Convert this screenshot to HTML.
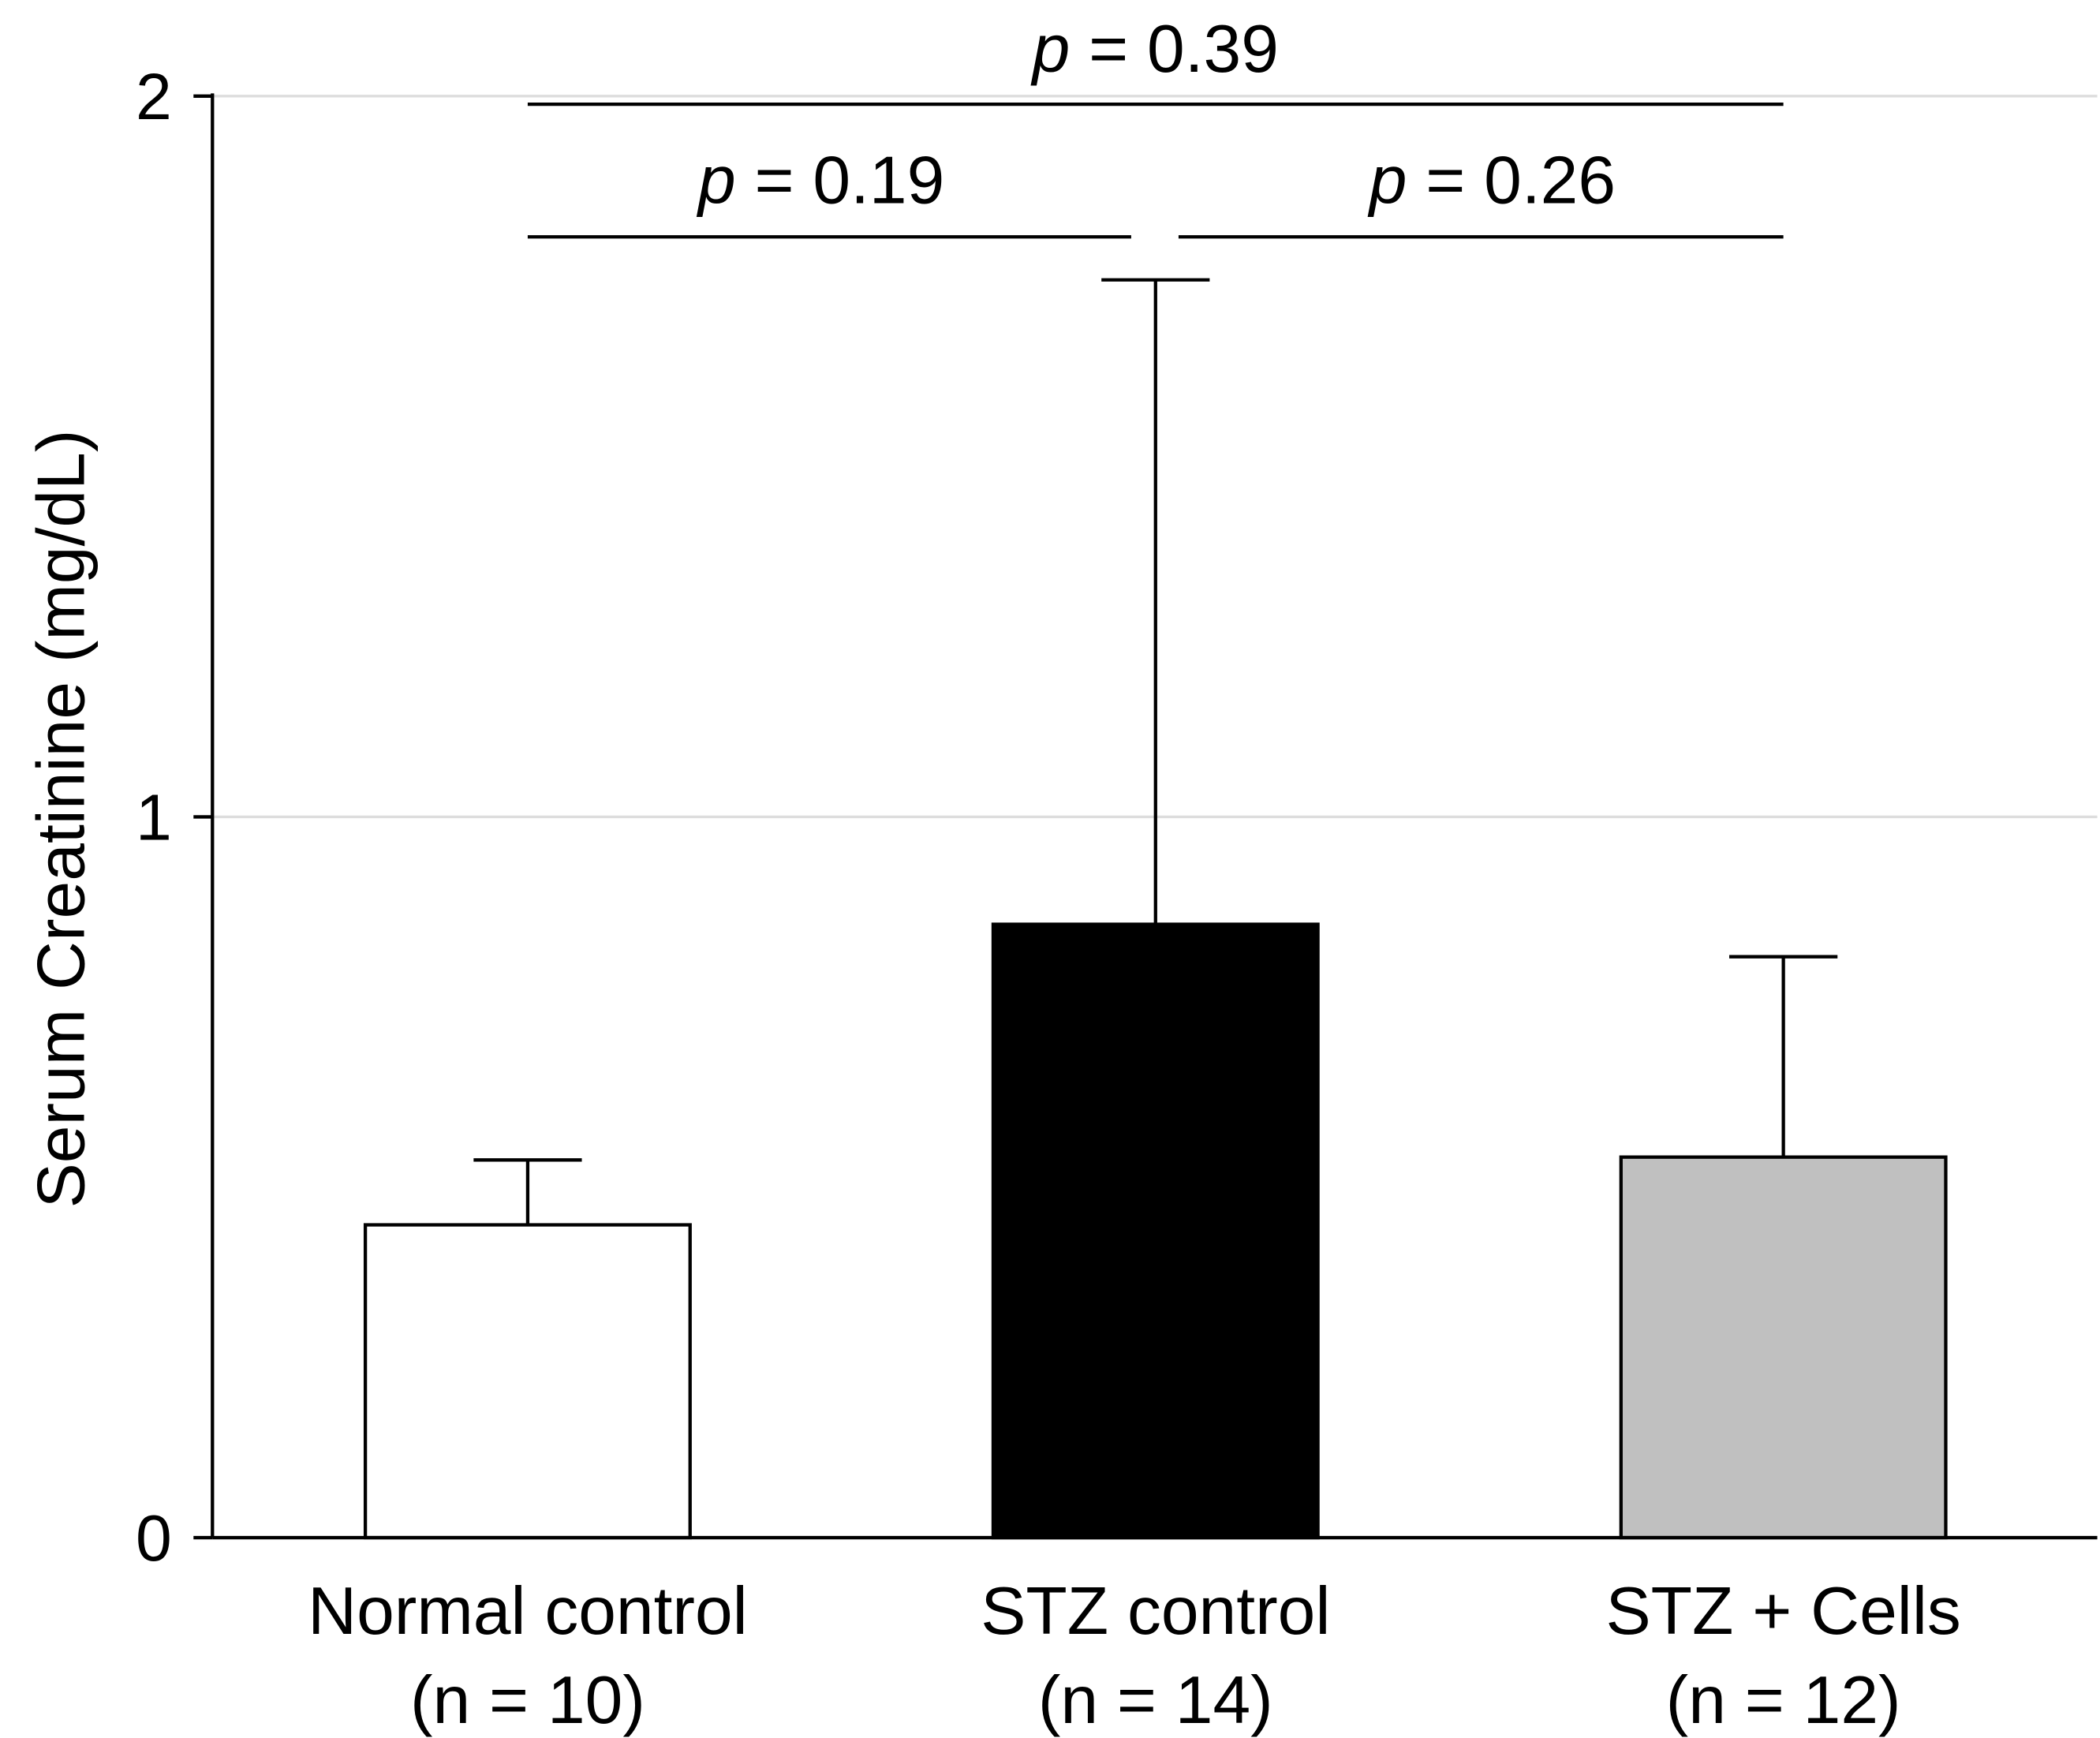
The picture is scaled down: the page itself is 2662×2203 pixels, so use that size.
<!DOCTYPE html>
<html><head><meta charset="utf-8"><style>
html,body{margin:0;padding:0;background:#fff;}
svg{display:block;font-family:"Liberation Sans",Arial,sans-serif;}
</style></head><body>
<svg id="chart" width="2662" height="2203" viewBox="0 0 1552 1284" preserveAspectRatio="none" xmlns="http://www.w3.org/2000/svg"></svg>
<script>
const categories = ["Normal control", "STZ control", "STZ + Cells"];
const nLabels = ["(n = 10)", "(n = 14)", "(n = 12)"];
const means = [0.434, 0.851, 0.528];
const errors = [0.090, 0.894, 0.278];
const fills = ["#ffffff", "#000000", "#c0c0c0"];
const yTicks = [0, 1, 2];
const pLabels = ["0.19", "0.26", "0.39"];

const svg = document.getElementById('chart');
const NS = "http://www.w3.org/2000/svg";
const x0 = 157, xEnd = 1550, yBase = 1136, yTop = 71;
const yMax = 2;
function yS(v){ return yBase - (yBase - yTop) * v / yMax; }
const centers = [390, 854, 1318];
function xS(i){ return centers[i]; }
const barW = 240, capW = 80;

function mk(tag, attrs, parent){
  const e = document.createElementNS(NS, tag);
  for (const k in attrs) e.setAttribute(k, attrs[k]);
  (parent || svg).appendChild(e);
  return e;
}

// gridlines and ticks
yTicks.forEach(t => {
  if (t > 0) {
    const g = mk('line', {x1:x0, x2:xEnd, y1:yS(t), y2:yS(t), stroke:'#dddddd', 'stroke-width':2});
    
    
  }
  const tk = mk('line', {x1:x0-14, x2:x0, y1:yS(t), y2:yS(t), stroke:'#000', 'stroke-width':2.5});
  
  
  const tl = mk('text', {x:x0-30, y:yS(t)+17, 'text-anchor':'end', 'font-size':48});
  tl.textContent = t;
  
  
});

// bars
categories.forEach((c, i) => {
  const cx = xS(i), top = yS(means[i]);
  const et = yS(means[i] + errors[i]);
  const eb = mk('line', {x1:cx, x2:cx, y1:top, y2:et, stroke:'#000', 'stroke-width':2.5});
  
  
  const cap = mk('line', {x1:cx-capW/2, x2:cx+capW/2, y1:et, y2:et, stroke:'#000', 'stroke-width':2.5});
  
  
  const r = mk('rect', {x:cx-barW/2, y:top, width:barW, height:yBase-top, fill:fills[i], stroke:'#000', 'stroke-width':2.5});
  
  
  const l1 = mk('text', {x:cx, y:1207, 'text-anchor':'middle', 'font-size':50});
  l1.textContent = c;
  
  
  const l2 = mk('text', {x:cx, y:1273, 'text-anchor':'middle', 'font-size':50});
  l2.textContent = nLabels[i];
  
  
});

// axes
const ya = mk('line', {x1:x0, x2:x0, y1:yTop-2, y2:yBase, stroke:'#000', 'stroke-width':2.5});


const xa = mk('line', {x1:x0, x2:xEnd, y1:yBase, y2:yBase, stroke:'#000', 'stroke-width':2.5});



// y title
const yt = mk('text', {x:0, y:0, 'text-anchor':'middle', 'font-size':50, transform:'translate(62,605) rotate(-90)'});
yt.textContent = 'Serum Creatinine (mg/dL)';



// significance brackets
const brackets = [
  {x1:390, x2:836, y:175, tx:607, ty:150, p:pLabels[0]},
  {x1:871, x2:1318, y:175, tx:1103, ty:150, p:pLabels[1]},
  {x1:390, x2:1318, y:77, tx:854, ty:53, p:pLabels[2]}
];
brackets.forEach((b, i) => {
  const ln = mk('line', {x1:b.x1, x2:b.x2, y1:b.y, y2:b.y, stroke:'#000', 'stroke-width':2.5});
  
  
  const t = mk('text', {x:b.tx, y:b.ty, 'text-anchor':'middle', 'font-size':50});
  const ps = mk('tspan', {'font-style':'italic'}, t);
  ps.textContent = 'p';
  const rest = mk('tspan', {}, t);
  rest.textContent = ' = ' + b.p;
  
  
});
</script>
</body></html>
